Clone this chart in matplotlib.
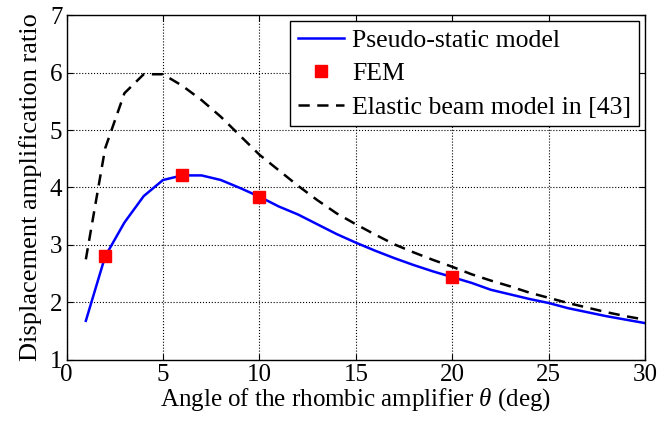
import matplotlib
matplotlib.use("Agg")
import matplotlib.pyplot as plt

plt.rcParams['font.family'] = ['Liberation Serif', 'DejaVu Serif']
plt.rcParams['mathtext.fontset'] = 'custom'
plt.rcParams['mathtext.it'] = 'Liberation Serif:italic'
plt.rcParams['mathtext.rm'] = 'Liberation Serif'

theta = list(range(1, 31))
pseudo_static = [1.68, 2.80, 3.39, 3.85, 4.13, 4.21, 4.21, 4.13, 3.99, 3.84,
                 3.67, 3.53, 3.36, 3.19, 3.04, 2.90, 2.77, 2.65, 2.54, 2.44,
                 2.34, 2.22, 2.14, 2.06, 1.99, 1.90, 1.83, 1.76, 1.70, 1.64]
elastic_beam = [2.75, 4.68, 5.64, 5.97, 5.97, 5.77, 5.52, 5.23, 4.90, 4.57,
                4.30, 4.03, 3.78, 3.55, 3.36, 3.18, 3.01, 2.87, 2.74, 2.62,
                2.49, 2.38, 2.28, 2.17, 2.08, 1.99, 1.91, 1.83, 1.76, 1.70]
fem_theta = [2, 6, 10, 20]
fem_values = [2.80, 4.21, 3.84, 2.44]

fig = plt.figure(figsize=(6.59, 4.30), dpi=100)
ax = fig.add_axes([0.101, 0.163, 0.878, 0.802])

ax.plot(theta, pseudo_static, color='#0000ff', lw=1.8, label='Pseudo-static model')
ax.plot(fem_theta, fem_values, 's', color='#ff0000', ms=8, ls='none', label='FEM')
ax.plot(theta, elastic_beam, '--', color='black', lw=1.8, dashes=(4.5, 3),
        label='Elastic beam model in [43]')

ax.set_xlim(0, 30)
ax.set_ylim(1, 7)
ax.set_xticks(range(0, 31, 5))
ax.set_yticks(range(1, 8))
ax.grid(True, color='black', ls=':', lw=0.8)
ax.tick_params(direction='in', top=True, right=True, labelsize=18, length=4, pad=3)
for s in ax.spines.values():
    s.set_linewidth(1.0)

ax.set_xlabel(r'Angle of the rhombic amplifier $\theta$ (deg)', fontsize=18, labelpad=0)
ax.set_ylabel('Displacement amplification ratio', fontsize=19, labelpad=6)

leg = ax.legend(loc='upper right', fontsize=18.5, fancybox=False, framealpha=1,
                edgecolor='black', borderpad=0.3, labelspacing=0.4,
                handlelength=1.8, handletextpad=0.3, borderaxespad=0.25)
leg.get_frame().set_linewidth(1.0)

fig.savefig('out.png', dpi=100)
